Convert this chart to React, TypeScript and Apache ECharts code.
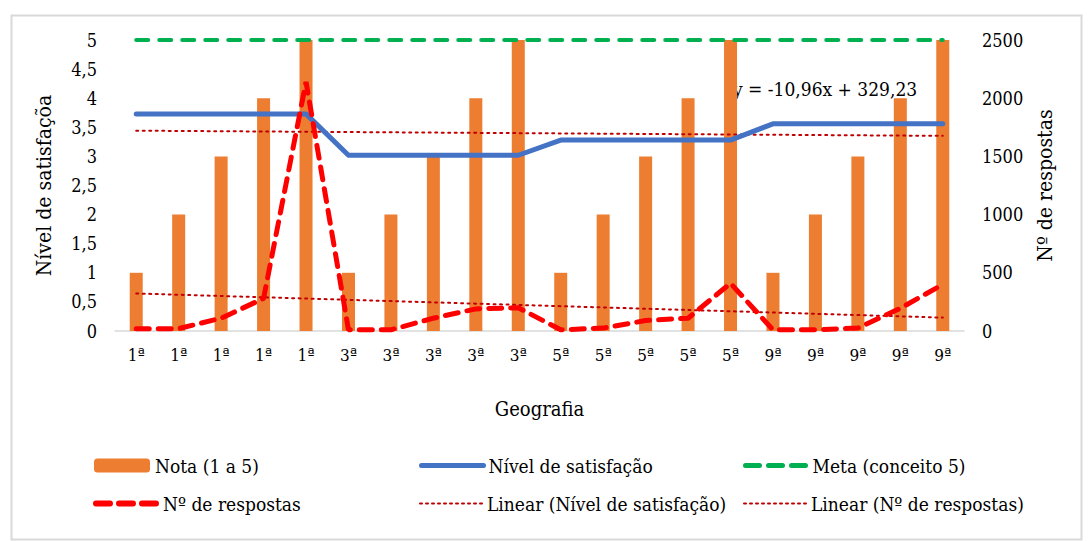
import React, { useEffect, useRef } from "react";
import * as echarts from "echarts";

const categories = ["1ª","1ª","1ª","1ª","1ª","3ª","3ª","3ª","3ª","3ª","5ª","5ª","5ª","5ª","5ª","9ª","9ª","9ª","9ª","9ª"];
const nota = [1,2,3,4,5,1,2,3,4,5,1,2,3,4,5,1,2,3,4,5];
const nivel = [3.73,3.73,3.73,3.73,3.73,3.02,3.02,3.02,3.02,3.02,3.28,3.28,3.28,3.28,3.28,3.56,3.56,3.56,3.56,3.56];
const meta = [5,5,5,5,5,5,5,5,5,5,5,5,5,5,5,5,5,5,5,5];
const respostas = [20,20,110,280,2140,10,10,110,190,200,10,25,90,110,410,10,10,25,195,400];
const equation = "y = -10,96x + 329,23";

function linearTrend(vals: number[]): number[] {
  const n = vals.length;
  const xs = vals.map((_, i) => i + 1);
  const mx = xs.reduce((a, b) => a + b, 0) / n;
  const my = vals.reduce((a, b) => a + b, 0) / n;
  let sxy = 0, sxx = 0;
  for (let i = 0; i < n; i++) { sxy += (xs[i] - mx) * (vals[i] - my); sxx += (xs[i] - mx) ** 2; }
  const b = sxy / sxx; const a = my - b * mx;
  return xs.map((x) => +(a + b * x).toFixed(4));
}

const FC = "DejaVu Serif Condensed";

export default function App() {
  const ref = useRef<HTMLDivElement>(null);
  useEffect(() => {
    if (!ref.current) return;
    const chart = echarts.init(ref.current, undefined, { renderer: "svg" });
    const legendText = { fontFamily: FC, fontSize: 19, color: "#000" };
    const mkLegend = (name: string, left: number, top: number, lineStyle?: any) => ({
      data: [name], left, top, itemWidth: lineStyle ? 62 : 56, itemHeight: 14, itemGap: 0,
      textStyle: legendText, padding: 0, selectedMode: false,
      ...(lineStyle ? { itemStyle: { opacity: 0 }, lineStyle } : {}),
    });
    chart.setOption({
      animation: false,
      backgroundColor: "#fff",
      grid: { left: 115, right: 127, top: 40, bottom: 210 },
      legend: [
        mkLegend("Nota (1 a 5)", 94, 456),
        mkLegend("Nível de satisfação", 419, 456, { width: 5, type: "solid", cap: "round" }),
        mkLegend("Meta (conceito 5)", 743, 456, { width: 5, type: [14, 9], cap: "round" }),
        mkLegend("Nº de respostas", 93, 494, { width: 6, type: [14, 9], cap: "round" }),
        mkLegend("Linear (Nível de satisfação)", 419, 494, { width: 2, type: [2, 4], cap: "round" }),
        mkLegend("Linear (Nº de respostas)", 743, 494, { width: 2, type: [2, 4], cap: "round" }),
      ],
      xAxis: {
        type: "category", data: categories, boundaryGap: true,
        name: "Geografia", nameLocation: "middle", nameGap: 68,
        nameTextStyle: { fontFamily: FC, fontSize: 20, color: "#000" },
        axisLine: { lineStyle: { color: "#d9d9d9", width: 1.5 } },
        axisTick: { show: false },
        axisLabel: { fontFamily: FC, fontSize: 17, color: "#000", margin: 15, interval: 0 },
      },
      yAxis: [
        {
          type: "value", min: 0, max: 5, interval: 0.5,
          name: "Nível de satisfaçõa", nameLocation: "middle", nameGap: 61, nameRotate: 90,
          nameTextStyle: { fontFamily: FC, fontSize: 21, color: "#000" },
          splitLine: { show: false }, axisLine: { show: false }, axisTick: { show: false },
          axisLabel: { fontFamily: FC, fontSize: 18, color: "#000", margin: 18,
            formatter: (v: number) => String(v).replace(".", ",") },
        },
        {
          type: "value", min: 0, max: 2500, interval: 500,
          name: "Nº de respostas", nameLocation: "middle", nameGap: 70, nameRotate: 90,
          nameTextStyle: { fontFamily: FC, fontSize: 21, color: "#000" },
          splitLine: { show: false }, axisLine: { show: false }, axisTick: { show: false },
          axisLabel: { fontFamily: FC, fontSize: 18, color: "#000", margin: 18,
            formatter: (v: number) => String(v) },
        },
      ],
      series: [
        { name: "Nota (1 a 5)", type: "bar", data: nota, barWidth: 13, yAxisIndex: 0,
          itemStyle: { color: "#ED7D31" }, z: 1 },
        { name: "Nível de satisfação", type: "line", data: nivel, yAxisIndex: 0, symbol: "none",
          lineStyle: { color: "#4472C4", width: 5, cap: "round", join: "round" }, itemStyle: { color: "#4472C4" }, z: 3 },
        { name: "Meta (conceito 5)", type: "line", data: meta, yAxisIndex: 0, symbol: "none",
          lineStyle: { color: "#00B050", width: 4, type: [12, 11], cap: "round" }, itemStyle: { color: "#00B050" }, z: 3 },
        { name: "Nº de respostas", type: "line", data: respostas, yAxisIndex: 1, symbol: "none",
          lineStyle: { color: "#FF0000", width: 5, type: [13, 9], cap: "round" }, itemStyle: { color: "#FF0000" }, z: 4 },
        { name: "Linear (Nível de satisfação)", type: "line", data: linearTrend(nivel), yAxisIndex: 0, symbol: "none",
          lineStyle: { color: "#C00000", width: 2, type: [2, 4.5], cap: "round" }, itemStyle: { color: "#C00000" }, z: 2 },
        { name: "Linear (Nº de respostas)", type: "line", data: linearTrend(respostas), yAxisIndex: 1, symbol: "none",
          lineStyle: { color: "#C00000", width: 2, type: [2, 4.5], cap: "round" }, itemStyle: { color: "#C00000" }, z: 2 },
      ],
      graphic: [
        { type: "rect", left: 9, top: 13, shape: { width: 1070, height: 524 },
          style: { fill: "none", stroke: "#d9d9d9", lineWidth: 2 }, silent: true, z: -1 },
        { type: "text", left: 733, top: 79, style: { text: equation, fontFamily: FC, fontSize: 19, fill: "#000" } },
      ],
    });
    return () => chart.dispose();
  }, []);
  return <div ref={ref} style={{ width: 1091, height: 541, position: "absolute", left: 0, top: 0 }} />;
}
